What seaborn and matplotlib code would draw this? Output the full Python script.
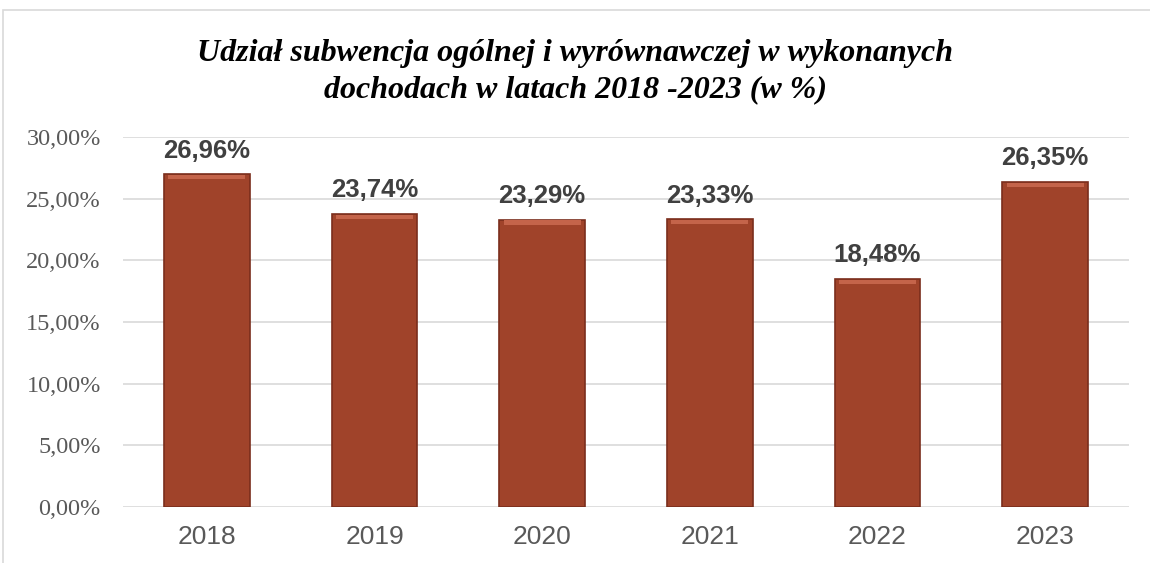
import matplotlib
matplotlib.use("Agg")
import matplotlib.pyplot as plt
import seaborn as sns
import pandas as pd
from matplotlib.patches import Rectangle

years = ["2018", "2019", "2020", "2021", "2022", "2023"]
shares = [26.96, 23.74, 23.29, 23.33, 18.48, 26.35]
labels = ["26,96%", "23,74%", "23,29%", "23,33%", "18,48%", "26,35%"]
yticks = [0, 5, 10, 15, 20, 25, 30]
ytick_labels = ["0,00%", "5,00%", "10,00%", "15,00%", "20,00%", "25,00%", "30,00%"]
title = "Udział subwencja ogólnej i wyrównawczej w wykonanych\ndochodach w latach 2018 -2023 (w %)"

sns.set_theme(style="white")
plt.rcParams['font.family'] = ['Liberation Sans', 'DejaVu Sans']

df = pd.DataFrame({"year": years, "share": shares})

fig = plt.figure(figsize=(11.5, 5.63), dpi=100)
ax = fig.add_axes([0.107, 0.0995, 0.8747, 0.6572])

sns.barplot(data=df, x="year", y="share", ax=ax, color="#A0432A",
            width=0.51, saturation=1, edgecolor="#7A2E1C", linewidth=1.2)

# light bevel highlight on top of bars
for p in ax.patches:
    x0 = p.get_x(); w = p.get_width(); h = p.get_height()
    ax.add_patch(Rectangle((x0 + w * 0.05, h - 0.4), w * 0.9, 0.34,
                           facecolor="#C4644A", edgecolor="none", zorder=3))

ax.set_ylim(0, 30)
ax.set_yticks(yticks)
ax.set_yticklabels(ytick_labels, family=['Liberation Serif', 'DejaVu Serif'],
                   fontsize=17.5, color="#595959")
ax.tick_params(axis='x', labelsize=19, colors="#595959", length=0, pad=13)
ax.tick_params(axis='y', length=0, pad=16)
ax.set_xlabel("")
ax.set_ylabel("")
ax.yaxis.grid(True, color="#D9D9D9", linewidth=1.2)
ax.set_axisbelow(True)
for s in ax.spines.values():
    s.set_visible(False)

for i, (v, lab) in enumerate(zip(shares, labels)):
    ax.text(i, v + 0.95, lab, ha="center", va="bottom", fontsize=18.5,
            fontweight="bold", color="#404040")

fig.text(0.5, 0.873, title, ha="center", va="center", fontsize=23,
         fontstyle="italic", fontweight="bold",
         family=['Liberation Serif', 'DejaVu Serif'], color="black",
         linespacing=1.3)

fig.patches.append(Rectangle((3 / 1150, -0.01), 1.02, 1 - 10 / 563 + 0.01,
                             transform=fig.transFigure, fill=False,
                             edgecolor="#D9D9D9", linewidth=1.2))

fig.savefig("out.png", dpi=100, facecolor="white")
